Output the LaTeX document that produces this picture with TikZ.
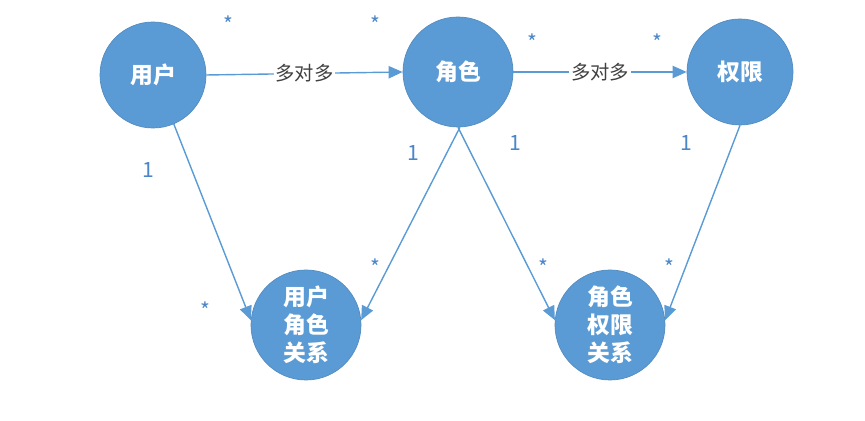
\documentclass[tikz,border=0pt]{standalone}
\usepackage{fontspec}
\setmainfont{Noto Sans CJK SC}
\usetikzlibrary{arrows.meta}
\definecolor{cfill}{HTML}{5B9BD5}
\definecolor{cline}{HTML}{5B9BD5}
\definecolor{ctxt}{HTML}{4A86C8}
\begin{document}
\begin{tikzpicture}[x=0.02cm,y=-0.02cm,
  ent/.style={circle,fill=cfill,draw=cfill!90!black,minimum size=106*0.02cm,inner sep=0pt,text=white,font=\fontsize{13}{16}\selectfont\bfseries,align=center},
  rel/.style={ent,minimum size=110*0.02cm},
  conn/.style={draw=cline,line width=0.8pt,-{Triangle[width=7pt,length=8pt]}},
  mul/.style={text=ctxt,font=\fontsize{12}{14}\selectfont}]
\useasboundingbox (0,0) rectangle (865,421);
\node[ent] (u) at (153,75) {用户};
\node[ent,minimum size=110*0.02cm] (r) at (458,72) {角色};
\node[ent] (p) at (740,72) {权限};
\node[rel] (ur) at (306,325) {用户\\角色\\关系};
\node[rel] (rp) at (610,325) {角色\\权限\\关系};
\draw[conn] (u.east) -- node[fill=white,inner sep=1pt,text=black!75,font=\fontsize{11}{13}\selectfont]{多对多} (r.west);
\draw[conn] (r.east) -- node[fill=white,inner sep=1pt,text=black!75,font=\fontsize{11}{13}\selectfont]{多对多} (p.west);
\draw[conn] (u.-67) -- (ur.175);
\draw[conn] (r.-88) -- (ur.5);
\draw[conn] (r.-90) -- (rp.175);
\draw[conn] (p.-90) -- (rp.5);
\node[mul] (s1) at (228,24) {*};
\node[mul] (s2) at (375,24) {*};
\node[mul] (s3) at (532,42) {*};
\node[mul] (s4) at (657,42) {*};
\node[mul] (o1) at (148,170) {1};
\node[mul] (o2) at (413,153) {1};
\node[mul] (o3) at (515,143) {1};
\node[mul] (o4) at (686,143) {1};
\node[mul] (s5) at (205,310) {*};
\node[mul] (s6) at (375,267) {*};
\node[mul] (s7) at (543,267) {*};
\node[mul] (s8) at (669,267) {*};
\end{tikzpicture}
\end{document}
